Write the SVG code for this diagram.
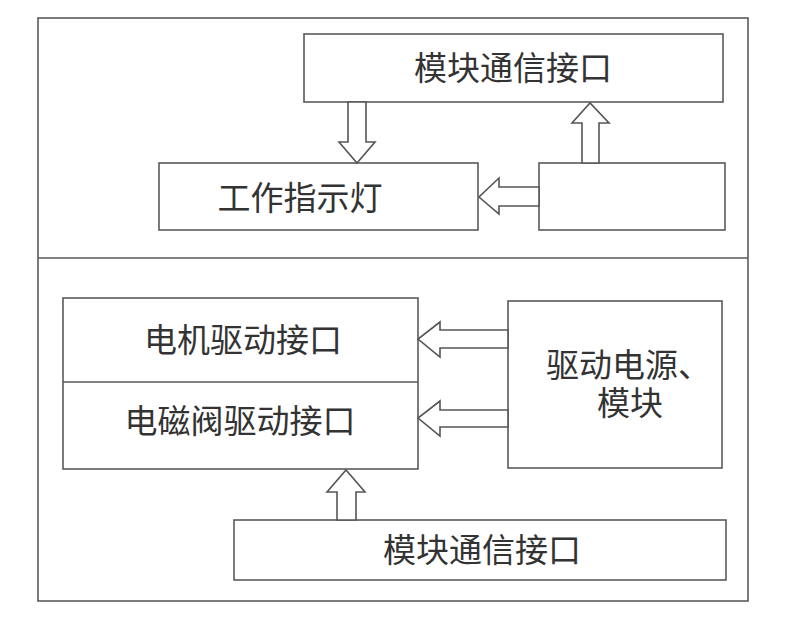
<svg xmlns="http://www.w3.org/2000/svg" width="797" height="632" viewBox="0 0 797 632">
<style>
.box{fill:#fff;stroke:#5a5a5a;stroke-width:1.6}
.line{stroke:#5a5a5a;stroke-width:1.6;fill:none}
.arr{fill:#fff;stroke:#555;stroke-width:1.6;stroke-linejoin:miter}
.t{font-family:"Noto Sans CJK SC","Noto Sans",sans-serif;font-size:33px;fill:#333;dominant-baseline:central}
.c{text-anchor:middle}
</style>
<rect width="797" height="632" fill="#fff"/>
<g id="frame">
<rect class="box" x="38" y="18" width="710" height="583"/>
<line class="line" x1="38" y1="258" x2="748" y2="258"/>
</g>
<g id="comm-top">
<rect class="box" x="304" y="34" width="419" height="68"/>
<text class="t c" x="513" y="66">模块通信接口</text>
</g>
<g id="indicator">
<rect class="box" x="159" y="163" width="319" height="67"/>
<text class="t c" x="300" y="196">工作指示灯</text>
</g>
<g id="blank">
<rect class="box" x="539" y="163" width="186" height="67"/>
</g>
<g id="drive-if">
<rect class="box" x="63" y="298" width="355" height="171"/>
<line class="line" x1="63" y1="382" x2="418" y2="382"/>
<text class="t c" x="243" y="338">电机驱动接口</text>
<text class="t c" x="240" y="419">电磁阀驱动接口</text>
</g>
<g id="power">
<rect class="box" x="508" y="301" width="214" height="167"/>
<text class="t"><tspan x="546" y="363">驱动电源、</tspan><tspan x="597" y="401">模块</tspan></text>
</g>
<g id="comm-bottom">
<rect class="box" x="234" y="520" width="492" height="60"/>
<text class="t c" x="482" y="548">模块通信接口</text>
</g>
<g id="connectors">
<polygon class="arr" points="348,102 366,102 366,142 375,142 357,163 339,142 348,142"/>
<polygon class="arr" points="582,163 599,163 599,123 609,123 590,103 572,123 582,123"/>
<polygon class="arr" points="539,187 499,187 499,178 479,197 499,214 499,206 539,206"/>
<polygon class="arr" points="508,330 440,330 440,322 418,339 440,357 440,348 508,348"/>
<polygon class="arr" points="508,410 440,410 440,401 418,418 440,436 440,427 508,427"/>
<polygon class="arr" points="337,520 356,520 356,492 365,492 346,470 327,492 337,492"/>
</g>
</svg>
